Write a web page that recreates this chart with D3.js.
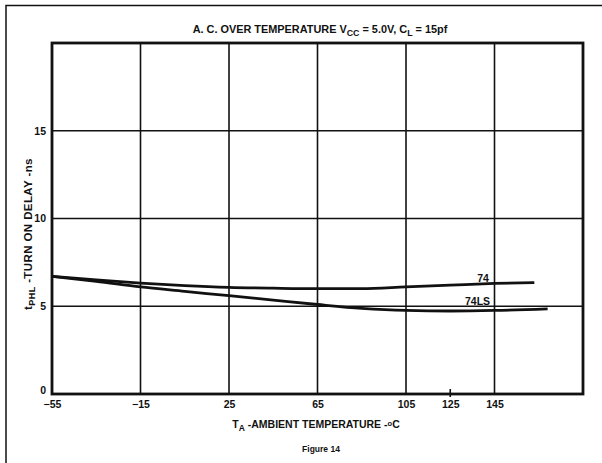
<!DOCTYPE html>
<html><head><meta charset="utf-8">
<script src="https://cdn.jsdelivr.net/npm/d3@7"></script>
<style>
html,body{margin:0;padding:0;background:#fff;}
svg{display:block;font-family:"Liberation Sans",Arial,Helvetica,sans-serif;font-weight:bold;}
</style></head>
<body><svg id="c" width="602" height="463"></svg>
<script>
// ---- data ----
const temps74   = [-55, -35, -15, 5, 25, 45, 65, 85, 105, 125, 145, 163];
const delay74   = [6.7, 6.5, 6.32, 6.18, 6.08, 6.03, 6.0, 6.0, 6.1, 6.2, 6.3, 6.35];
const temps74LS = [-55, -35, -15, 5, 25, 45, 65, 85, 105, 125, 145, 169];
const delay74LS = [6.7, 6.42, 6.1, 5.85, 5.6, 5.35, 5.1, 4.88, 4.76, 4.73, 4.76, 4.85];
const xTickLabels = [-55, -15, 25, 65, 105, 125, 145];
const xGrid = [-15, 25, 65, 105, 145];
const yTickLabels = [0, 5, 10, 15];
const xDomain = [-55, 185];
const yDomain = [0, 20];

const svg = d3.select("#c");
const L = 52, R = 583, T = 43, B = 394;
const x = d3.scaleLinear().domain(xDomain).range([L, R]);
const y = d3.scaleLinear().domain(yDomain).range([B, T]);

// outer frame
svg.append("rect").attr("x", 6).attr("y", 5.5).attr("width", 700).attr("height", 600)
  .attr("fill", "none").attr("stroke", "#111").attr("stroke-width", 1.5);

// title
const title = svg.append("text").attr("x", 320).attr("y", 33).attr("text-anchor", "middle")
  .attr("font-size", 10.9).attr("fill", "#111");
title.append("tspan").text("A. C. OVER TEMPERATURE V");
title.append("tspan").attr("font-size", 8.8).attr("dy", 2.5).text("CC");
title.append("tspan").attr("dy", -2.5).text(" = 5.0V, C");
title.append("tspan").attr("font-size", 8.8).attr("dy", 2.5).text("L");
title.append("tspan").attr("dy", -2.5).text(" = 15pf");

// gridlines
const g = svg.append("g");
g.selectAll(".vg").data(xGrid).enter().append("line")
  .attr("x1", d => x(d)).attr("x2", d => x(d)).attr("y1", y(yDomain[0])).attr("y2", y(yDomain[1]))
  .attr("stroke", "#111").attr("stroke-width", 1.6);
g.selectAll(".hg").data(yTickLabels.filter(d => d > 0)).enter().append("line")
  .attr("x1", x(xDomain[0])).attr("x2", x(xDomain[1])).attr("y1", d => y(d)).attr("y2", d => y(d))
  .attr("stroke", "#111").attr("stroke-width", 1.6);

// 125 tick mark
svg.append("line").attr("x1", x(125)).attr("x2", x(125)).attr("y1", y(0) - 5).attr("y2", y(0) + 3)
  .attr("stroke", "#111").attr("stroke-width", 1.6);

// border
svg.append("rect").attr("x", x(xDomain[0])).attr("y", y(yDomain[1]))
  .attr("width", x(xDomain[1]) - x(xDomain[0])).attr("height", y(yDomain[0]) - y(yDomain[1]))
  .attr("fill", "none").attr("stroke", "#111").attr("stroke-width", 2.8);

// axes labels via d3 axes
const xAxis = d3.axisBottom(x).tickValues(xTickLabels).tickSize(0).tickPadding(7).tickFormat(d3.format("d"));
const xa = svg.append("g").attr("transform", `translate(0,${B})`).call(xAxis);
xa.select(".domain").remove();
xa.selectAll("text").attr("font-size", 10.5).attr("font-weight", "bold").attr("fill", "#111")
  .attr("font-family", "Liberation Sans, Arial, sans-serif");

const yAxis = d3.axisLeft(y).tickValues(yTickLabels).tickSize(0).tickPadding(6).tickFormat(d3.format("d"));
const ya = svg.append("g").attr("transform", `translate(${L},0)`).call(yAxis);
ya.select(".domain").remove();
ya.selectAll("text").attr("font-size", 10.5).attr("font-weight", "bold").attr("fill", "#111")
  .attr("font-family", "Liberation Sans, Arial, sans-serif");
ya.selectAll(".tick").filter(d => d === 0).select("text").attr("dy", "-0.05em");

// curves
const line = d3.line().x(d => x(d[0])).y(d => y(d[1])).curve(d3.curveMonotoneX);
const s74 = temps74.map((t, i) => [t, delay74[i]]);
const s74LS = temps74LS.map((t, i) => [t, delay74LS[i]]);
svg.append("path").attr("d", line(s74)).attr("fill", "none").attr("stroke", "#111").attr("stroke-width", 2.8);
svg.append("path").attr("d", line(s74LS)).attr("fill", "none").attr("stroke", "#111").attr("stroke-width", 2.8);

// curve labels
svg.append("text").attr("x", x(142.5)).attr("y", y(6.4)).attr("text-anchor", "end")
  .attr("font-size", 10.5).attr("fill", "#111").text("74");
svg.append("text").attr("x", x(143)).attr("y", y(5.05)).attr("text-anchor", "end")
  .attr("font-size", 10.5).attr("fill", "#111").text("74LS");

// axis titles
const xt = svg.append("text").attr("x", 316).attr("y", 428).attr("text-anchor", "middle")
  .attr("font-size", 10.5).attr("fill", "#111");
xt.append("tspan").text("T");
xt.append("tspan").attr("font-size", 8.5).attr("dy", 2.5).text("A");
xt.append("tspan").attr("dy", -2.5).text(" -AMBIENT TEMPERATURE -");
xt.append("tspan").attr("font-size", 7.5).attr("dy", -2.5).text("o");
xt.append("tspan").attr("dy", 2.5).text("C");

const yt = svg.append("text").attr("transform", "translate(32,234) rotate(-90)").attr("text-anchor", "middle")
  .attr("font-size", 11.5).attr("letter-spacing", 0.4).attr("fill", "#111");
yt.append("tspan").text("t");
yt.append("tspan").attr("font-size", 9).attr("dy", 2.5).text("PHL");
yt.append("tspan").attr("dy", -2.5).text(" -TURN ON DELAY -ns");

svg.append("text").attr("x", 321).attr("y", 452).attr("text-anchor", "middle")
  .attr("font-size", 8.5).attr("fill", "#111").text("Figure 14");
</script></body></html>
